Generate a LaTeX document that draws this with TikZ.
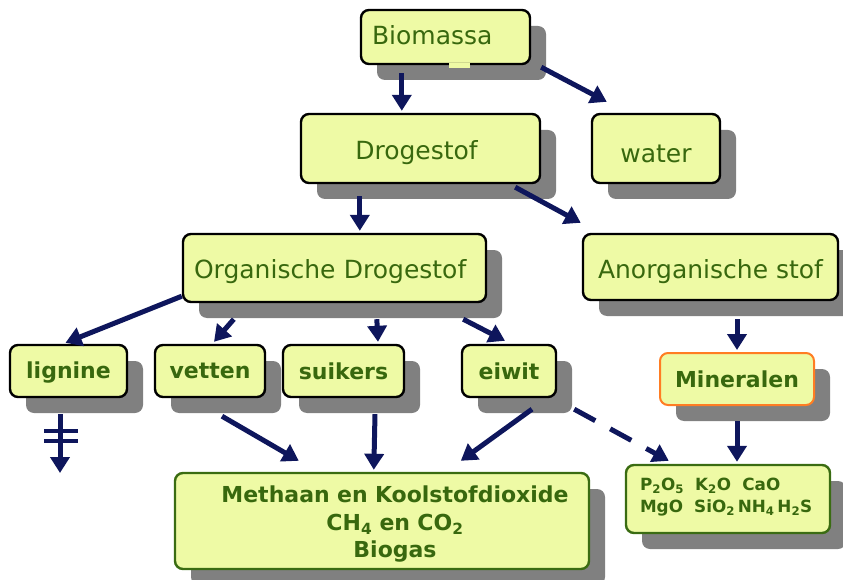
\documentclass[tikz,border=0pt]{standalone}
\usepackage{fontspec}
\setmainfont{DejaVu Sans}
\usetikzlibrary{arrows.meta,shadows}
\definecolor{boxfill}{RGB}{238,250,165}
\definecolor{txtgreen}{RGB}{56,104,14}
\definecolor{bordgreen}{RGB}{58,108,18}
\definecolor{bordorange}{RGB}{255,125,35}
\definecolor{shadowgray}{RGB}{128,128,128}
\definecolor{arrnavy}{RGB}{14,22,92}
\newcommand\shiftdn[2]{\raisebox{-#1}[\height][\depth]{#2}}
\tikzset{
  box/.style={draw=black, line width=2.4pt, fill=boxfill, rounded corners=8pt,
    text=txtgreen, inner sep=0pt,
    drop shadow={shadow xshift=16pt, shadow yshift=-16pt, fill=shadowgray, opacity=1}},
  regtxt/.style={font=\fontsize{25}{30}\selectfont},
  boldtxt/.style={font=\fontsize{22}{27.5}\selectfont\bfseries},
  arr/.style={draw=arrnavy, line width=5pt, -{Triangle[length=16pt,width=19pt]}},
  dasharr/.style={arr, dash pattern=on 24pt off 17pt},
  bar/.style={draw=arrnavy, line width=4pt}
}
\begin{document}
\begin{tikzpicture}[x=1pt,y=-1pt]
\useasboundingbox (0,0) rectangle (843,580);
% boxes
\node[box, regtxt, minimum width=169, minimum height=54, text width=147, inner xsep=11, align=left] (bio) at (445.5,37) {\shiftdn{-2pt}{Biomassa}};
\fill[boxfill] ([shift={(89,-2)}]bio.south west) rectangle ([shift={(110,3)}]bio.south west);
\node[box, regtxt, minimum width=239, minimum height=69] (dro) at (420.5,148.5) {\shiftdn{4pt}{Drogestof}\hspace*{8pt}};
\node[box, regtxt, minimum width=128, minimum height=69] (wat) at (656,148.5) {\shiftdn{5pt}{water}};
\node[box, regtxt, minimum width=303, minimum height=68, text width=281, inner xsep=11, align=left] (org) at (334.5,268) {\shiftdn{4pt}{Organische Drogestof}};
\node[box, regtxt, minimum width=255, minimum height=66] (ano) at (710.5,267) {\shiftdn{5pt}{Anorganische stof}};
\node[box, boldtxt, minimum width=117, minimum height=52] (lig) at (68.5,371) {\shiftdn{2pt}{lignine}};
\node[box, boldtxt, minimum width=110, minimum height=52] (vet) at (210,371) {vetten};
\node[box, boldtxt, minimum width=121, minimum height=52] (sui) at (343.5,371) {suikers};
\node[box, boldtxt, minimum width=94, minimum height=52] (eiw) at (509,371) {eiwit};
\node[box, boldtxt, draw=bordorange, line width=2pt, minimum width=154, minimum height=52] (min) at (737,379) {Mineralen};
\node[box, draw=bordgreen, font=\fontsize{16.8}{22}\selectfont\bfseries, minimum width=204, minimum height=68, text width=176, inner xsep=14, align=left] (mbx) at (728,499)
  {\shiftdn{-1.5pt}{\parbox{176pt}{P\textsubscript{2}O\textsubscript{5}\ \ K\textsubscript{2}O\ \ CaO\\MgO\ \ SiO\textsubscript{2}\,NH\textsubscript{4}\,H\textsubscript{2}S}}};
\node[box, boldtxt, draw=bordgreen, minimum width=414, minimum height=96, text width=388, align=center] (met) at (382,521)
  {\shiftdn{3.5pt}{\parbox{388pt}{\centering\hspace*{26pt}Methaan en Koolstofdioxide\\\hspace*{26pt}CH\textsubscript{4} en CO\textsubscript{2}\\\hspace*{26pt}Biogas}}};
% arrows
\draw[arr] ([shift={(42,8)}]bio.south west) -- ([shift={(102,-2)}]dro.north west);
\draw[arr] ([shift={(10,2)}]bio.south east) -- ([shift={(16,-11)}]wat.north west);
\draw[arr] ([shift={(60,12)}]dro.south west) -- ([shift={(178,-2)}]org.north west);
\draw[arr] ([shift={(-26,3)}]dro.south east) -- ([shift={(-1,-10)}]ano.north west);
\draw[arr] ([shift={(0,-7)}]org.south west) -- ([shift={(-3,-1)}]lig.north);
\draw[arr] ([shift={(52,16)}]org.south west) -- ([shift={(4,-2)}]vet.north);
\draw[arr] ([shift={(195,16)}]org.south west) -- ([shift={(34.5,-2)}]sui.north);
\draw[arr] ([shift={(-24,16)}]org.south east) -- ([shift={(-4,-3)}]eiw.north);
\draw[arr] ([shift={(26.5,18)}]ano.south) -- ([shift={(0,-2)}]min.north);
\draw[arr] ([shift={(0,15)}]min.south) -- ([shift={(9,-2)}]mbx.north);
\coordinate (ligend) at (60,473);
\draw[arr] ([shift={(-8.5,16)}]lig.south) -- (ligend);
\draw[bar] ([shift={(-16,-42)}]ligend) -- ([shift={(18,-42)}]ligend);
\draw[bar] ([shift={(-16,-32)}]ligend) -- ([shift={(18,-32)}]ligend);
\draw[arr] ([shift={(12,18)}]vet.south) -- ([shift={(125,-11)}]met.north west);
\draw[arr] ([shift={(31.5,16)}]sui.south) -- ([shift={(200,-2)}]met.north west);
\draw[arr] ([shift={(23,11)}]eiw.south) -- ([shift={(287,-11)}]met.north west);
\draw[dasharr] ([shift={(17,11)}]eiw.south east) -- ([shift={(44,-3)}]mbx.north west);
\end{tikzpicture}
\end{document}
